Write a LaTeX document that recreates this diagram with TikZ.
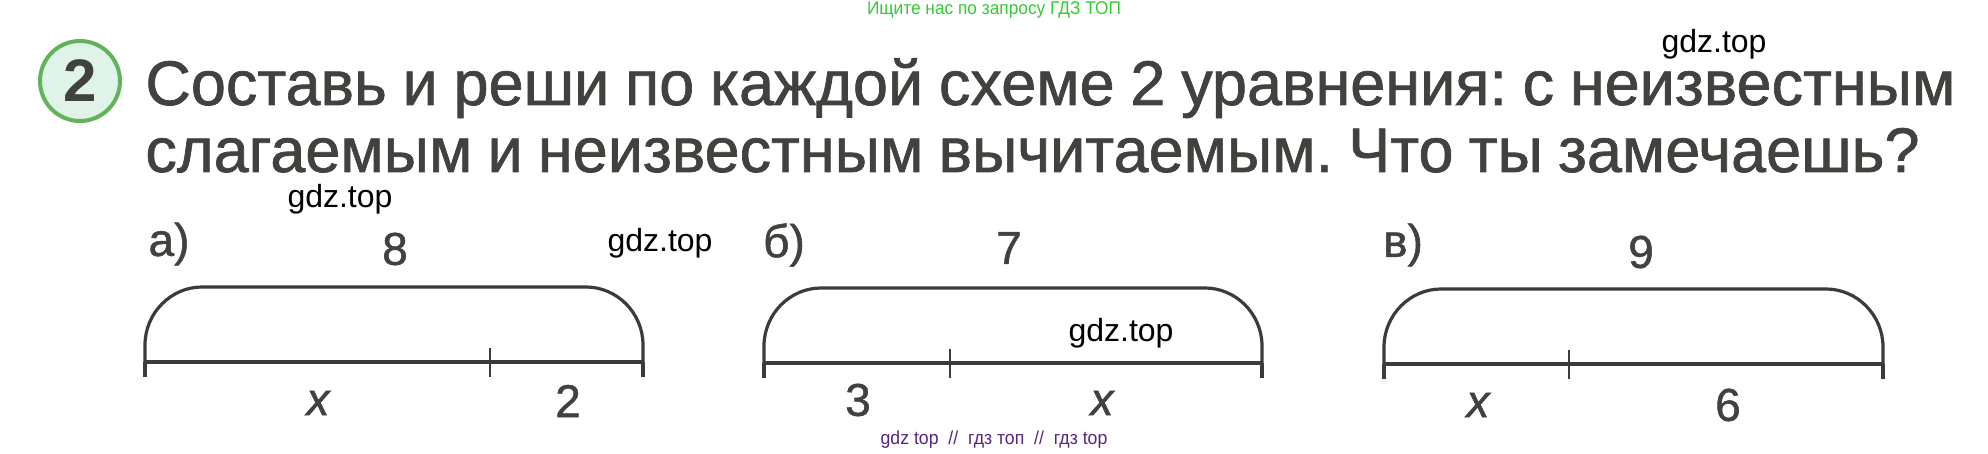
\documentclass[tikz,border=0pt]{standalone}
\usepackage{fontspec}
\setmainfont{Liberation Sans}
\newfontfamily\inkfont{Liberation Sans}[FakeBold=1.1]
\usepackage{xcolor}
\usepackage{tikz}
\usetikzlibrary{positioning}

\definecolor{ink}{RGB}{64,66,62}
\definecolor{linegray}{RGB}{58,60,56}
\definecolor{ringgreen}{RGB}{98,180,90}
\definecolor{ringfill}{RGB}{224,243,232}
\definecolor{topgreen}{RGB}{52,204,52}
\definecolor{markpurple}{RGB}{88,36,132}

\begin{document}
\frenchspacing
\begin{tikzpicture}[x=0.5pt,y=-0.5pt,
  seg/.style={draw=linegray, line width=2.3pt},
  bow/.style={draw=linegray, line width=1.6pt},
  notch/.style={draw=linegray, line width=1.3pt},
  num/.style={text=ink, inner sep=0pt, font=\inkfont\fontsize{23}{23}\selectfont},
  title/.style={text=ink, inner sep=0pt, anchor=base west, font=\inkfont\fontsize{31.5}{31.5}\selectfont},
  wm/.style={inner sep=0pt, font=\fontsize{16}{16}\selectfont}]
\useasboundingbox[fill=white] (0,0) rectangle (1988,454);

% header
\node[inner sep=0pt, text=topgreen, font=\fontsize{9.2}{9.2}\selectfont] (search) at (994,10) {\scalebox{0.94}[1]{Ищите нас по запросу ГДЗ ТОП}};
\node[circle, draw=ringgreen, fill=ringfill, line width=2pt, minimum size=40pt, inner sep=0pt] (task) at (80,81) {};
\node[text=ink, inner sep=0pt, font=\fontsize{30}{30}\selectfont\bfseries] (tasknum) at (task.center) {2};
\node[title] (line1) at (145,105) {\makebox[905pt][s]{Составь и реши по каждой схеме 2 уравнения: с неизвестным}};
\node[title] (line2) at (145,172) {\makebox[887pt][s]{слагаемым и неизвестным вычитаемым. Что ты замечаешь?}};

% scheme a
\coordinate (aL) at (145,362);
\coordinate (aM) at (490,362);
\coordinate (aR) at (643,362);
\draw[seg] (aL) -- (aR);
\draw[bow] (aL) -- (145,345) .. controls (145,313) and (171,287) .. (202,287) -- (586,287) .. controls (617,287) and (643,313) .. (643,345) -- (aR);
\draw[bow] (aL) -- ++(0,15);
\draw[bow] (aR) -- ++(0,15);
\draw[notch] (aM) ++(0,-14) -- ++(0,29);
\node[num] (alabel) at (169,244) {а)};
\node[num] (asum) at (395,249) {8};
\node[num] (apart1) at (318,403) {\itshape x};
\node[num] (apart2) at (568,401) {2};

% scheme b
\coordinate (bL) at (764,363);
\coordinate (bM) at (950,363);
\coordinate (bR) at (1262,363);
\draw[seg] (bL) -- (bR);
\draw[bow] (bL) -- (764,346) .. controls (764,314) and (790,288) .. (821,288) -- (1205,288) .. controls (1236,288) and (1262,314) .. (1262,346) -- (bR);
\draw[bow] (bL) -- ++(0,15);
\draw[bow] (bR) -- ++(0,15);
\draw[notch] (bM) ++(0,-14) -- ++(0,29);
\node[num] (blabel) at (784,245) {б)};
\node[num] (bsum) at (1009,248) {7};
\node[num] (bpart1) at (858,400) {3};
\node[num] (bpart2) at (1102,403) {\itshape x};

% scheme c
\coordinate (cL) at (1384,364);
\coordinate (cM) at (1569,364);
\coordinate (cR) at (1883,364);
\draw[seg] (cL) -- (cR);
\draw[bow] (cL) -- (1384,347) .. controls (1384,315) and (1410,289) .. (1441,289) -- (1826,289) .. controls (1857,289) and (1883,315) .. (1883,347) -- (cR);
\draw[bow] (cL) -- ++(0,15);
\draw[bow] (cR) -- ++(0,15);
\draw[notch] (cM) ++(0,-14) -- ++(0,29);
\node[num] (clabel) at (1403,245) {в)};
\node[num] (csum) at (1641,252) {9};
\node[num] (cpart1) at (1478,405) {\itshape x};
\node[num] (cpart2) at (1728,405) {6};

% watermarks
\node[wm] (wm1) at (1714,44) {gdz.top};
\node[wm] (wm2) at (340,199) {gdz.top};
\node[wm] (wm3) at (660,243) {gdz.top};
\node[wm] (wm4) at (1121,333) {gdz.top};
\node[inner sep=0pt, text=markpurple, font=\fontsize{9.4}{9.4}\selectfont] (footer) at (994,440) {\scalebox{0.94}[1]{gdz top\ \ //\ \ гдз топ\ \ //\ \ гдз top}};
\end{tikzpicture}
\end{document}
